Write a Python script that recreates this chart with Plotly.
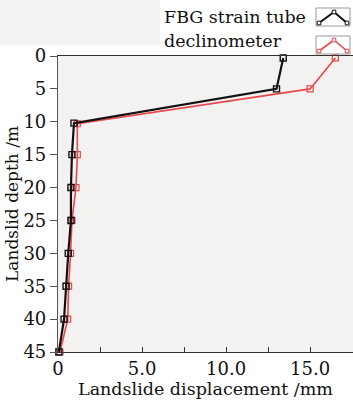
import plotly.graph_objects as go

# Data
depth_fbg = [0.3, 5.0, 10.2, 15, 20, 25, 30, 35, 40, 45]
disp_fbg = [13.4, 13.0, 0.95, 0.83, 0.77, 0.77, 0.61, 0.48, 0.36, 0.05]
depth_incl = [0.3, 5.0, 10.3, 15, 20, 25, 30, 35, 40, 45]
disp_incl = [16.5, 15.0, 1.15, 1.15, 1.07, 0.83, 0.75, 0.63, 0.58, 0.12]
series_names = ["FBG strain tube", "declinometer"]
x_tickvals = [0, 2.5, 5, 7.5, 10, 12.5, 15, 17.5]
x_ticktext = ["0", "", "5.0", "", "10.0", "", "15.0", ""]
y_tickvals = [0, 5, 10, 15, 20, 25, 30, 35, 40, 45]

W, H = 353, 402
L, R, T, B = 58, 0, 56, 50
FONT = "DejaVu Serif"


def px(x):
    return (x - L) / (W - L - R)


def py(y):
    return (H - B - y) / (H - T - B)


fig = go.Figure()
fig.add_trace(go.Scatter(
    x=disp_incl, y=depth_incl, mode="lines+markers", name=series_names[1],
    line=dict(color="#e8474c", width=1.6),
    marker=dict(symbol="square-open", size=6, color="#e8474c", line=dict(width=1.2)),
    showlegend=False, cliponaxis=False))
fig.add_trace(go.Scatter(
    x=disp_fbg, y=depth_fbg, mode="lines+markers", name=series_names[0],
    line=dict(color="#111111", width=2.2),
    marker=dict(symbol="square-open", size=6, color="#111111", line=dict(width=1.4)),
    showlegend=False, cliponaxis=False))

shapes = []
# light grey patch top-left and legend icons (decoration)
shapes.append(dict(type="rect", xref="paper", yref="paper", x0=px(0), x1=px(160),
                   y0=py(0), y1=py(45), fillcolor="#f3f3f3", line=dict(width=0), layer="below"))
for i, (col, y0) in enumerate([("#111111", 8), ("#e8474c", 36)]):
    shapes.append(dict(type="rect", xref="paper", yref="paper",
                       x0=px(316), x1=px(350), y0=py(y0), y1=py(y0 + 18),
                       fillcolor="white", line=dict(color="#9a9a9a", width=1)))
    pts = [(319, y0 + 15), (334, y0 + 4), (347, y0 + 15)]
    path = "M " + " L ".join(f"{px(a)},{py(b)}" for a, b in pts)
    shapes.append(dict(type="path", xref="paper", yref="paper", path=path,
                       line=dict(color=col, width=2 if i == 0 else 1.6)))
    for a, b in pts:
        shapes.append(dict(type="rect", xref="paper", yref="paper",
                           x0=px(a - 1.8), x1=px(a + 1.8), y0=py(b - 1.8), y1=py(b + 1.8),
                           fillcolor="white", line=dict(color=col, width=1)))

annotations = []
for name, yc in zip(series_names, [17, 41]):
    annotations.append(dict(text=name, xref="paper", yref="paper", x=px(162), y=py(yc),
                            xanchor="left", yanchor="middle", showarrow=False,
                            font=dict(family=FONT, size=17.5, color="#111111")))

fig.update_layout(
    width=W, height=H,
    margin=dict(l=L, r=R, t=T, b=B, autoexpand=False),
    paper_bgcolor="white", plot_bgcolor="#f3f2f1",
    font=dict(family=FONT, size=18, color="#111111"),
    shapes=shapes, annotations=annotations,
    xaxis=dict(range=[0, 17.55], tickvals=x_tickvals, ticktext=x_ticktext,
               ticks="inside", ticklen=5, tickcolor="#333333", showgrid=False,
               zeroline=False, showline=True, linecolor="#333333", linewidth=1.2,
               mirror=True, automargin=False,
               title=dict(text="Landslide displacement /mm", standoff=0,
                          font=dict(family=FONT, size=17.5))),
    yaxis=dict(range=[45, 0], tickvals=y_tickvals, ticks="outside", ticklen=7,
               tickcolor="#555555", showgrid=False, zeroline=False, showline=True,
               linecolor="#555555", linewidth=1.2, mirror=True, automargin=False,
               title=dict(text="Landslid depth /m", standoff=0,
                          font=dict(family=FONT, size=17))),
)

fig.write_html("out.html", config={"displayModeBar": False},
               post_script="document.body.style.margin='0';")
